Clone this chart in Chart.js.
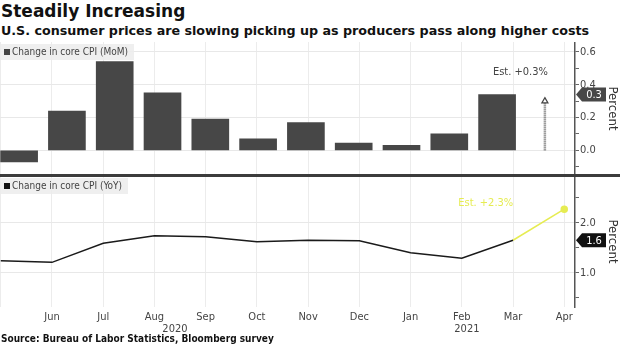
<!DOCTYPE html>
<html>
<head>
<meta charset="utf-8">
<script src="https://cdn.jsdelivr.net/npm/chart.js@4.4.1/dist/chart.umd.min.js"></script>
<style>
  body { margin: 0; background: #fff; font-family: "DejaVu Sans Condensed", "DejaVu Sans", sans-serif; }
  #wrap { position: relative; width: 620px; height: 348px; overflow: hidden; }
  #title { position: absolute; left: 1px; top: 1px; font-family: "DejaVu Sans", sans-serif; font-size: 17px; font-weight: bold; color: #111; }
  #subtitle { position: absolute; left: 1px; top: 23px; font-family: "DejaVu Sans", sans-serif; font-size: 12.7px; font-weight: bold; color: #111; }
  #source { position: absolute; left: 1px; top: 333px; font-size: 10px; font-weight: bold; color: #111; }
  .legend { position: absolute; left: 0; padding: 2px 6px 3px 4px; background: rgba(236,236,236,0.85); font-size: 10px; color: #444; }
  .legend span { display: inline-block; width: 6px; height: 6px; margin-right: 2px; }
  #divider { position: absolute; left: 0; top: 174px; width: 620px; height: 3px; background: #3c3c3c; }
  canvas { position: absolute; left: 0; }
</style>
</head>
<body>
<div id="wrap">
  <div id="title">Steadily Increasing</div>
  <div id="subtitle">U.S. consumer prices are slowing picking up as producers pass along higher costs</div>
  <canvas id="momChart" width="620" height="133" style="top:42px"></canvas>
  <canvas id="yoyChart" width="620" height="159" style="top:176px"></canvas>
  <div id="divider"></div>
  <div class="legend" style="top:44px"><span style="background:#444"></span>Change in core CPI (MoM)</div>
  <div class="legend" style="top:178px"><span style="background:#111"></span>Change in core CPI (YoY)</div>
  <div id="source">Source: Bureau of Labor Statistics, Bloomberg survey</div>
</div>
<script>
const months = ['May', 'Jun', 'Jul', 'Aug', 'Sep', 'Oct', 'Nov', 'Dec', 'Jan', 'Feb', 'Mar', 'Apr'];
const momValues = [-0.07, 0.24, 0.54, 0.35, 0.19, 0.07, 0.17, 0.045, 0.03, 0.10, 0.34, null];
const momEstimate = 0.3;
const yoyValues = [1.24, 1.21, 1.59, 1.74, 1.72, 1.62, 1.65, 1.64, 1.40, 1.29, 1.65, null];
const yoyEstimate = 2.27;
const momTickLabels = [0.0, 0.2, 0.4, 0.6];
const yoyTickLabels = [1.0, 2.0];
const years = ['2020', '2021'];

const FONT = '"DejaVu Sans Condensed", "DejaVu Sans", sans-serif';
const YELLOW = '#e6ec52';
const lastIdx = months.length - 2;   // Mar, last actual
const estIdx = months.length - 1;    // Apr, estimate

// x ranges for the two panels (bars sit on a slightly different grid than the line)
const momX = { min: -0.4, max: 11.63 };
const yoyX = { min: -0.015, max: 11.21 };

function isLabeled(list, v) {
    return list.some(t => Math.abs(t - v) < 1e-6);
}

// chart area should run right up to the canvas edges
function noPad(s) {
    s.paddingTop = 0; s.paddingBottom = 0; s.paddingLeft = 0; s.paddingRight = 0;
}

// value tag on right axis + estimate note
const tagPlugin = {
    id: 'tag',
    afterDraw(chart, args, opts) {
        const ctx = chart.ctx;
        const y = chart.scales.y.getPixelForValue(opts.value);
        const x = chart.chartArea.right + 1;
        ctx.save();
        ctx.fillStyle = opts.bg;
        ctx.beginPath();
        ctx.moveTo(x, y);
        ctx.lineTo(x + 6, y - 7);
        ctx.lineTo(x + 30, y - 7);
        ctx.lineTo(x + 30, y + 7);
        ctx.lineTo(x + 6, y + 7);
        ctx.closePath();
        ctx.fill();
        ctx.fillStyle = '#fff';
        ctx.font = '11px ' + FONT;
        ctx.textAlign = 'center';
        ctx.textBaseline = 'middle';
        ctx.fillText(opts.text, x + 18, y + 0.5);
        const xs = chart.scales.x;
        ctx.fillStyle = opts.noteColor;
        ctx.textAlign = 'right';
        ctx.fillText(opts.note, xs.getPixelForValue(estIdx) + opts.noteDx, chart.scales.y.getPixelForValue(opts.noteAt) + opts.noteDy);
        ctx.restore();
    }
};

// year labels under the month ticks
const yearPlugin = {
    id: 'years',
    afterDraw(chart) {
        const ctx = chart.ctx;
        const xs = chart.scales.x;
        ctx.save();
        ctx.fillStyle = '#444';
        ctx.font = '11px ' + FONT;
        ctx.textAlign = 'center';
        ctx.textBaseline = 'middle';
        ctx.fillText(years[0], xs.getPixelForValue(3.4), chart.chartArea.bottom + 22);
        ctx.fillText(years[1], xs.getPixelForValue(9.1), chart.chartArea.bottom + 22);
        ctx.restore();
    }
};

Chart.defaults.font.family = FONT;
Chart.defaults.color = '#444';

new Chart(document.getElementById('momChart'), {
    type: 'bar',
    data: {
        datasets: [{
            data: months.map((m, i) => ({ x: i, y: momValues[i] })),
            backgroundColor: '#474747',
            barThickness: 37
        }, {
            type: 'line',
            data: [{ x: estIdx, y: 0 }, { x: estIdx, y: momEstimate }],
            borderColor: '#666',
            borderWidth: 2.5,
            borderDash: [1, 1],
            pointRadius: [0, 3.5],
            pointStyle: 'triangle',
            pointBackgroundColor: '#fff',
            pointBorderColor: '#444',
            pointBorderWidth: 1.2
        }]
    },
    options: {
        responsive: false,
        animation: false,
        layout: { padding: 0, autoPadding: false },
        plugins: {
            legend: { display: false },
            tooltip: { enabled: false },
            tag: { value: momValues[lastIdx], text: momValues[lastIdx].toFixed(1), bg: '#474747',
                   note: 'Est. +' + momEstimate.toFixed(1) + '%', noteColor: '#444', noteAt: momEstimate, noteDx: 3, noteDy: -29 }
        },
        scales: {
            x: {
                type: 'linear', min: momX.min, max: momX.max, offset: false,
                afterBuildTicks: s => {
                    // grid lines follow the month positions of the lower panel
                    s.ticks = months.map((m, i) => ({
                        value: momX.min + (i - yoyX.min) / (yoyX.max - yoyX.min) * (momX.max - momX.min)
                    }));
                },
                afterFit: s => { s.height = 0; noPad(s); },
                ticks: { display: false },
                grid: { color: '#ececec', drawTicks: false, offset: false },
                border: { display: false }
            },
            y: {
                position: 'right', min: -0.15, max: 0.66,
                afterFit: s => { s.width = 45; noPad(s); },
                ticks: {
                    stepSize: 0.1, includeBounds: false, padding: 1,
                    font: { size: 11 }, color: '#444',
                    callback: v => isLabeled(momTickLabels, v) ? v.toFixed(1) : ''
                },
                grid: {
                    color: c => isLabeled(momTickLabels, c.tick.value) ? '#e8e8e8' : 'transparent',
                    tickColor: '#666', tickLength: 4
                },
                border: { color: '#555', width: 1.5 },
                title: { display: true, text: 'Percent', font: { size: 13 }, color: '#333', padding: 0 }
            }
        }
    },
    plugins: [tagPlugin]
});

new Chart(document.getElementById('yoyChart'), {
    type: 'line',
    data: {
        datasets: [{
            data: months.map((m, i) => ({ x: i, y: yoyValues[i] })),
            borderColor: '#1a1a1a',
            borderWidth: 1.5,
            pointRadius: 0
        }, {
            data: [{ x: lastIdx, y: yoyValues[lastIdx] }, { x: estIdx, y: yoyEstimate }],
            borderColor: YELLOW,
            borderWidth: 1.5,
            pointRadius: [0, 3],
            pointBackgroundColor: YELLOW,
            pointBorderColor: YELLOW
        }]
    },
    options: {
        responsive: false,
        animation: false,
        layout: { padding: 0, autoPadding: false },
        plugins: {
            legend: { display: false },
            tooltip: { enabled: false },
            tag: { value: yoyValues[lastIdx], text: yoyValues[lastIdx].toFixed(1), bg: '#111',
                   note: 'Est. +' + yoyEstimate.toFixed(1) + '%', noteColor: YELLOW, noteAt: yoyEstimate, noteDx: -51, noteDy: -6 }
        },
        scales: {
            x: {
                type: 'linear', min: yoyX.min, max: yoyX.max,
                afterFit: s => { s.height = 28; noPad(s); },
                ticks: {
                    stepSize: 1, includeBounds: false, autoSkip: false, maxRotation: 0, padding: 4,
                    font: { size: 11 }, color: '#444',
                    callback: v => v === 0 ? '' : months[v]
                },
                grid: { color: '#ececec', drawTicks: false },
                border: { display: false }
            },
            y: {
                position: 'right', min: 0.32, max: 2.93,
                afterFit: s => { s.width = 45; noPad(s); },
                ticks: {
                    stepSize: 0.5, includeBounds: false, padding: 1,
                    font: { size: 11 }, color: '#444',
                    callback: v => isLabeled(yoyTickLabels, v) ? v.toFixed(1) : ''
                },
                grid: {
                    color: c => isLabeled(yoyTickLabels, c.tick.value) ? '#e8e8e8' : 'transparent',
                    tickColor: '#666', tickLength: 4
                },
                border: { color: '#555', width: 1.5 },
                title: { display: true, text: 'Percent', font: { size: 13 }, color: '#333', padding: 0 }
            }
        }
    },
    plugins: [tagPlugin, yearPlugin]
});
</script>
</body>
</html>
